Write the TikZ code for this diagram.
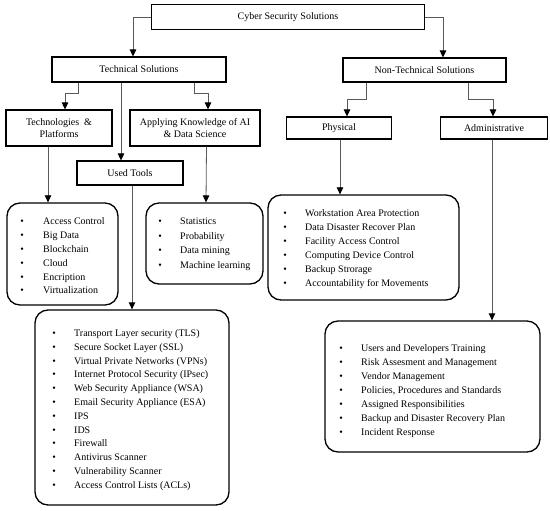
\documentclass[tikz,border=0pt]{standalone}
\usepackage{fontspec}
\setmainfont{Liberation Serif}
\usetikzlibrary{arrows.meta}
\newlength\bgap
\newcommand{\itm}[1]{\makebox[0pt]{\textbullet}\hspace{\bgap}#1}
\begin{document}
\begin{tikzpicture}[x=1pt,y=-1pt,
  box/.style={draw=black, line width=1.1pt, rectangle, inner sep=0pt, font=\fontsize{10}{12.5}\selectfont, align=center},
  listbox/.style={draw=black, line width=1.3pt, rounded corners=13pt, inner sep=0pt},
  conn/.style={draw=black!65, line width=0.8pt, -{Triangle[length=7pt,width=6.5pt,color=black,fill=black]}},
  txt/.style={anchor=base west, inner sep=0pt}
]
\fill[white] (0,0) rectangle (550,511);
\useasboundingbox (0,0) rectangle (550,511);

% title boxes
\node[box, minimum width=273pt, minimum height=25pt] (top) at (288,17) {Cyber Security Solutions};
\node[box, minimum width=174pt, minimum height=25pt] (tech) at (139,69.5) {Technical Solutions};
\node[box, minimum width=163pt, minimum height=24pt] (nontech) at (424.5,70) {Non-Technical Solutions};
\node[box, minimum width=106pt, minimum height=36pt] (techno) at (59,128) {Technologies \ \&\\Platforms};
\node[box, minimum width=130pt, minimum height=36pt] (apply) at (195,128) {Applying Knowledge of AI\\\& Data Science};
\node[box, minimum width=106pt, minimum height=24pt] (tools) at (130,173) {Used Tools};
\node[box, minimum width=105pt, minimum height=22pt] (phys) at (339,128) {Physical};
\node[box, minimum width=107pt, minimum height=22pt] (admin) at (494,128) {Administrative};

% list boxes
\node[listbox, minimum width=111pt, minimum height=102pt] (techlist) at (62.5,254) {};
\node[listbox, minimum width=117pt, minimum height=81pt] (ailist) at (204.5,243.5) {};
\node[listbox, minimum width=191pt, minimum height=105pt] (physlist) at (363.5,247.5) {};
\node[listbox, minimum width=194pt, minimum height=195pt] (toollist) at (132,407.5) {};
\node[listbox, minimum width=215pt, minimum height=131pt] (adminlist) at (432.5,386.5) {};

% list texts
\node[txt] (techtxt) at (22,224.5) {\fontsize{10}{13.9}\selectfont\setlength\bgap{21pt}%
\begin{tabular}[t]{@{}l@{}}
\itm{Access Control}\\
\itm{Big Data}\\
\itm{Blockchain}\\
\itm{Cloud}\\
\itm{Encription}\\
\itm{Virtualization}
\end{tabular}};
\node[txt] (aitxt) at (160,224.5) {\fontsize{10}{14.6}\selectfont\setlength\bgap{20pt}%
\begin{tabular}[t]{@{}l@{}}
\itm{Statistics}\\
\itm{Probability}\\
\itm{Data mining}\\
\itm{Machine learning}
\end{tabular}};
\node[txt] (phystxt) at (285,216.5) {\fontsize{10}{14}\selectfont\setlength\bgap{20pt}%
\begin{tabular}[t]{@{}l@{}}
\itm{Workstation Area Protection}\\
\itm{Data Disaster Recover Plan}\\
\itm{Facility Access Control}\\
\itm{Computing Device Control}\\
\itm{Backup Strorage}\\
\itm{Accountability for Movements}
\end{tabular}};
\node[txt] (tooltxt) at (54,336.5) {\fontsize{10}{13.8}\selectfont\setlength\bgap{20pt}%
\begin{tabular}[t]{@{}l@{}}
\itm{Transport Layer security (TLS)}\\
\itm{Secure Socket Layer (SSL)}\\
\itm{Virtual Private Networks (VPNs)}\\
\itm{Internet Protocol Security (IPsec)}\\
\itm{Web Security Appliance (WSA)}\\
\itm{Email Security Appliance (ESA)}\\
\itm{IPS}\\
\itm{IDS}\\
\itm{Firewall}\\
\itm{Antivirus Scanner}\\
\itm{Vulnerability Scanner}\\
\itm{Access Control Lists (ACLs)}
\end{tabular}};
\node[txt] (admintxt) at (341,351.5) {\fontsize{10}{14}\selectfont\setlength\bgap{20pt}%
\begin{tabular}[t]{@{}l@{}}
\itm{Users and Developers Training}\\
\itm{Risk Assesment and Management}\\
\itm{Vendor Management}\\
\itm{Policies, Procedures and Standards}\\
\itm{Assigned Responsibilities}\\
\itm{Backup and Disaster Recovery Plan}\\
\itm{Incident Response}
\end{tabular}};

% connectors
\draw[conn] (top.west) -| ([xshift=-6pt]tech.north);
\draw[conn] (top.east) -| ([xshift=18.5pt]nontech.north);
\draw[conn] ([xshift=-61pt]tech.south) -- ++(0,11) -| ([xshift=6pt]techno.north);
\draw[conn] ([xshift=-18pt]tech.south) -- ([xshift=-9pt]tools.north);
\draw[conn] ([xshift=55pt]tech.south) -- ++(0,11) -| ([xshift=13pt]apply.north);
\draw[conn] ([xshift=-58.5pt]nontech.south) -- ++(0,17) -| ([xshift=8pt]phys.north);
\draw[conn] ([xshift=43.5pt]nontech.south) -- ++(0,17) -| ([xshift=-1pt]admin.north);
\draw[conn] ([xshift=-11pt]techno.south) -- ([xshift=-14.5pt]techlist.north);
\draw[conn] ([xshift=11.5pt]apply.south) -- ([xshift=1.5pt]ailist.north);
\draw[conn] ([xshift=2pt]tools.south) -- (toollist.north);
\draw[conn] ([xshift=1pt]phys.south) -- ([xshift=-23.5pt]physlist.north);
\draw[conn] ([xshift=-2pt]admin.south) -- ([xshift=59.5pt]adminlist.north);
\end{tikzpicture}
\end{document}
